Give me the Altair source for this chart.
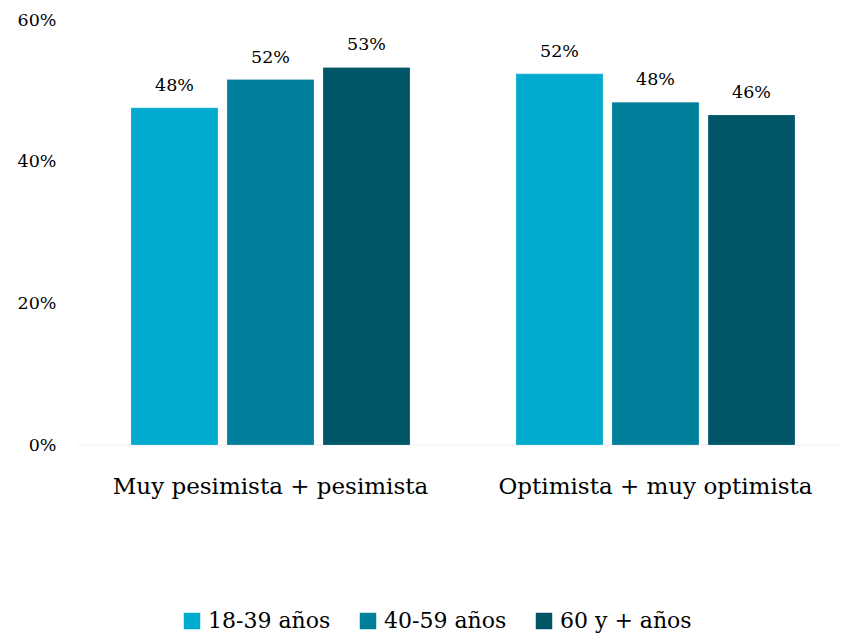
import altair as alt
import pandas as pd

categories = ["Muy pesimista + pesimista", "Optimista + muy optimista"]
groups = ["18-39 años", "40-59 años", "60 y + años"]
values_18_39 = [47.6, 52.4]
values_40_59 = [51.6, 48.4]
values_60 = [53.3, 46.6]
labels_18_39 = ["48%", "52%"]
labels_40_59 = ["52%", "48%"]
labels_60 = ["53%", "46%"]
colors = ["#00ABCF", "#007F9A", "#005666"]
y_ticks = [0, 20, 40, 60]

FONT = "DejaVu Serif"

rows = []
for g, vals, labs in zip(groups, [values_18_39, values_40_59, values_60],
                         [labels_18_39, labels_40_59, labels_60]):
    for c, v, l in zip(categories, vals, labs):
        rows.append({"categoria": c, "grupo": g, "valor": v, "etiqueta": l})
df = pd.DataFrame(rows)

x_enc = alt.X("categoria:N", sort=categories,
              scale=alt.Scale(paddingInner=0, paddingOuter=0, range=[0, 770]),
              axis=alt.Axis(title=None, labelFont=FONT, labelFontSize=23, labelLimit=0,
                            labelColor="#000000", labelPadding=30, ticks=False,
                            domain=False, labelAngle=0))
xoff_enc = alt.XOffset("grupo:N", sort=groups,
                       scale=alt.Scale(paddingInner=0.094, paddingOuter=0.552))
y_enc = alt.Y("valor:Q", scale=alt.Scale(domain=[0, 60]),
              axis=alt.Axis(title=None, values=y_ticks, labelExpr="datum.value + '%'",
                            grid=False, ticks=False, domain=False, labelPadding=22,
                            labelFont=FONT, labelFontSize=17.5, labelColor="#000000"))

base = alt.Chart(df)

rule = alt.Chart(pd.DataFrame({"y": [0]})).mark_rule(color="#eeeeee", strokeWidth=1).encode(
    y=alt.Y("y:Q", scale=alt.Scale(domain=[0, 60]))
)

bars = base.mark_bar(stroke="#ffffff", strokeWidth=0.5, strokeOpacity=0.4).encode(
    x=x_enc,
    xOffset=xoff_enc,
    y=y_enc,
    color=alt.Color("grupo:N", sort=groups,
                    scale=alt.Scale(domain=groups, range=colors),
                    legend=alt.Legend(title=None, orient="none", legendX=103, legendY=590,
                                      direction="horizontal", symbolType="square",
                                      symbolSize=272, symbolStrokeWidth=0,
                                      labelFont=FONT, labelFontSize=22, labelColor="#000000",
                                      labelOffset=5, columnPadding=26, labelLimit=0))
)

text = base.mark_text(baseline="alphabetic", dy=-17, fontSize=17.5, font=FONT, color="#000000").encode(
    x=alt.X("categoria:N", sort=categories),
    xOffset=alt.XOffset("grupo:N", sort=groups),
    y=alt.Y("valor:Q"),
    text="etiqueta:N"
)

chart = alt.layer(rule, bars, text).properties(
    width=762, height=425,
    autosize=alt.AutoSizeParams(type="none"),
    padding={"left": 70, "top": 12, "right": 0, "bottom": 189}
).configure_view(stroke=None)

chart.save("out.html", embed_options={"renderer": "svg", "actions": False})
